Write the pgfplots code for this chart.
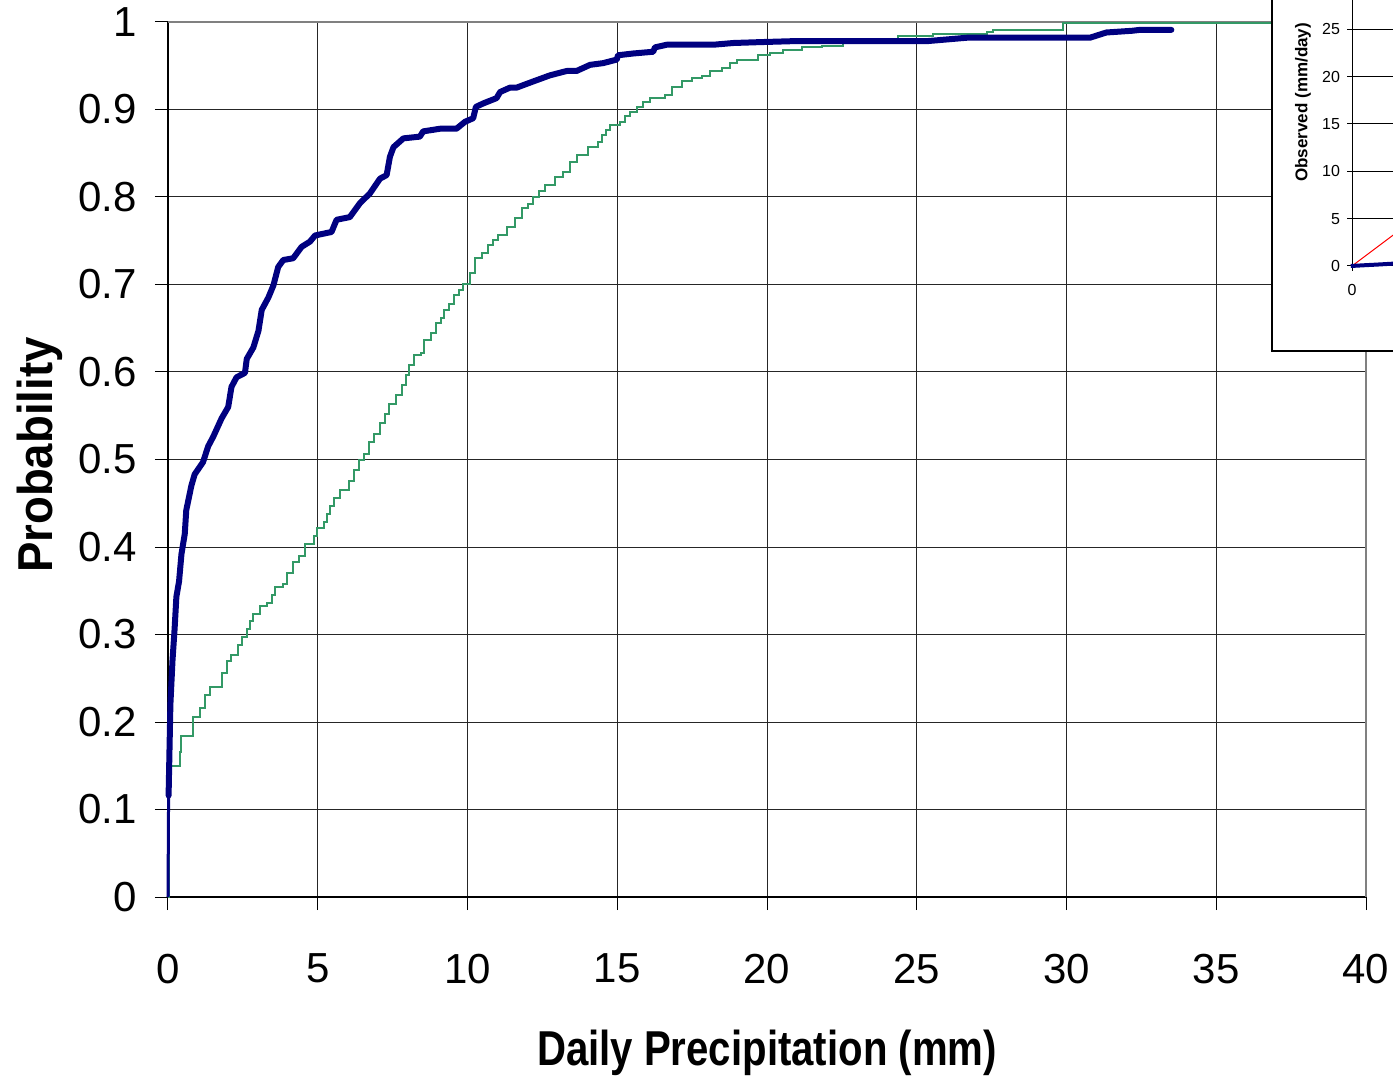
\documentclass[border=0pt]{standalone}
\usepackage{fontspec}
\setmainfont{Liberation Sans}
\usepackage{graphicx}
\usepackage{pgfplots}
\pgfplotsset{compat=1.18}
\definecolor{obsblue}{RGB}{0,0,128}
\definecolor{simgreen}{RGB}{51,153,102}
\begin{document}
\begin{tikzpicture}
\useasboundingbox (-84pt,-90pt) rectangle (612.5pt,448.5pt);
\clip (-84pt,-90pt) rectangle (612.5pt,448.5pt);
\begin{axis}[
  at={(0pt,0pt)}, anchor=south west,
  scale only axis, width=599pt, height=437.5pt,
  xmin=0, xmax=40, ymin=0, ymax=1,
  xtick={0,5,10,15,20,25,30,35,40},
  ytick={0,0.1,0.2,0.3,0.4,0.5,0.6,0.7,0.8,0.9,1},
  yticklabels={0,0.1,0.2,0.3,0.4,0.5,0.6,0.7,0.8,0.9,1},
  xtick pos=left, ytick pos=left,
  tick align=outside, major tick length=6.5pt,
  tick style={black, line width=0.5pt},
  grid=major, major grid style={black!85, line width=0.5pt},
  axis line style={black, line width=0.75pt},
  /pgf/number format/assume math mode=true,
  ticklabel style={font=\fontsize{21}{25}\selectfont},
  xticklabel style={yshift=-18.5pt},
  yticklabel style={xshift=-5.5pt},
  xlabel={\scalebox{0.82}[1]{Daily Precipitation (mm)}},
  ylabel={\scalebox{0.93}[1]{Probability}},
  xlabel style={font=\bfseries\fontsize{24.5}{28}\selectfont, at={(axis description cs:0.5,-0.178)}, anchor=center},
  ylabel style={font=\bfseries\fontsize{24.5}{28}\selectfont, at={(axis description cs:-0.107,0.505)}, anchor=center},
  clip=false,
]
\draw[gray, line width=1pt] (axis cs:0,1) -- (axis cs:40,1) -- (axis cs:40,0);
% simulated (green, stepped)
\addplot[const plot mark left, simgreen, line width=1pt] coordinates {
(0,0) (0.03,0.136) (0.11,0.15) (0.39,0.166) (0.45,0.184) (0.84,0.206) (1.06,0.216)
(1.23,0.231) (1.40,0.240) (1.79,0.256) (1.96,0.27) (2.12,0.277) (2.35,0.288)
(2.46,0.297) (2.63,0.306) (2.74,0.315) (2.85,0.324) (3.07,0.333) (3.30,0.336)
(3.46,0.345) (3.58,0.354) (3.85,0.358) (3.97,0.370) (4.19,0.383) (4.36,0.390)
(4.58,0.404) (4.86,0.413) (4.97,0.422) (5.20,0.429) (5.31,0.438) (5.42,0.447)
(5.53,0.456) (5.75,0.465) (6.03,0.476) (6.20,0.488) (6.37,0.499) (6.54,0.506)
(6.70,0.520) (6.87,0.529) (7.09,0.542) (7.23,0.552) (7.37,0.563) (7.60,0.574)
(7.82,0.585) (7.93,0.597) (8.04,0.608) (8.21,0.619) (8.44,0.622) (8.55,0.637)
(8.77,0.644) (8.94,0.656) (9.11,0.662) (9.22,0.671) (9.39,0.678) (9.55,0.688)
(9.72,0.694) (9.85,0.701) (10.08,0.713) (10.25,0.730) (10.47,0.736) (10.70,0.745)
(10.86,0.751) (11.03,0.757) (11.31,0.766) (11.59,0.776) (11.81,0.787) (12.03,0.792)
(12.20,0.800) (12.40,0.807) (12.59,0.814) (12.92,0.823) (13.20,0.829) (13.42,0.840)
(13.64,0.848) (14.03,0.857) (14.37,0.863) (14.48,0.871) (14.62,0.877) (14.76,0.882)
(15.09,0.886) (15.25,0.892) (15.43,0.897) (15.65,0.903) (15.85,0.908) (16.09,0.913)
(16.59,0.917) (16.82,0.926) (17.15,0.933) (17.48,0.936) (17.82,0.938) (18.10,0.944)
(18.49,0.947) (18.76,0.953) (18.99,0.956) (19.71,0.962) (20.10,0.965) (20.54,0.968)
(21.16,0.971) (21.83,0.973) (22.55,0.976) (23.20,0.980) (24.39,0.984) (25.55,0.986)
(27.33,0.988) (27.55,0.991) (29.89,0.999) (40,0.999)
};
% observed (navy, thick)
\addplot[obsblue, line width=1.5pt] coordinates {(0,0) (0.02,0.116)};
\addplot[obsblue, line width=3pt, line join=round, line cap=round] coordinates {
(0.02,0.116) (0.08,0.22) (0.15,0.27) (0.22,0.306) (0.28,0.343) (0.37,0.361)
(0.45,0.392) (0.56,0.415) (0.61,0.442) (0.78,0.47) (0.89,0.483) (1.17,0.497)
(1.34,0.515) (1.51,0.526) (1.79,0.547) (2.01,0.560) (2.12,0.583) (2.29,0.594)
(2.57,0.599) (2.63,0.615) (2.85,0.628) (3.02,0.647) (3.13,0.671) (3.35,0.685)
(3.52,0.699) (3.68,0.720) (3.85,0.728) (4.18,0.730) (4.46,0.743) (4.74,0.749)
(4.91,0.756) (5.18,0.758) (5.46,0.760) (5.63,0.774) (6.07,0.777) (6.41,0.793)
(6.74,0.804) (7.08,0.821) (7.30,0.825) (7.41,0.846) (7.53,0.857) (7.86,0.867)
(8.41,0.869) (8.52,0.875) (9.08,0.878) (9.63,0.878) (9.92,0.886) (10.19,0.890)
(10.28,0.903) (10.53,0.907) (10.97,0.913) (11.09,0.920) (11.42,0.925) (11.64,0.925)
(12.19,0.932) (12.75,0.939) (13.31,0.944) (13.64,0.944) (14.09,0.951) (14.53,0.953)
(14.98,0.957) (15.03,0.962) (15.53,0.964) (16.20,0.966) (16.26,0.971) (16.65,0.974)
(18.20,0.974) (18.88,0.976) (19.77,0.977) (20.77,0.978) (25.30,0.978) (26.67,0.982)
(30.78,0.982) (31.33,0.988) (32.20,0.990) (32.45,0.991) (33.50,0.991)
};
\end{axis}
% inset frame
\draw[black, line width=0.75pt, fill=white] (552pt,273pt) rectangle (720pt,620pt);
\begin{axis}[
  at={(592pt,315.5pt)}, anchor=south west,
  scale only axis, width=63pt, height=142.05pt,
  xmin=0, xmax=10, ymin=0, ymax=30,
  axis lines=left, axis line style={black, line width=0.5pt},
  xtick={0,5,10}, ytick={0,5,10,15,20,25,30},
  tick align=outside, major tick length=2.5pt,
  tick style={black, line width=0.5pt},
  ymajorgrids, major grid style={black, line width=0.5pt},
  /pgf/number format/assume math mode=true,
  ticklabel style={font=\fontsize{8}{9.5}\selectfont},
  xticklabel style={yshift=-3pt},
  ylabel={Observed (mm/day)},
  ylabel style={font=\bfseries\fontsize{8.5}{10}\selectfont, at={(axis description cs:-0.389,0.576)}, anchor=center},
  clip=false,
]
\addplot[red, line width=0.5pt] coordinates {(0,0) (30,30)};
\addplot[obsblue, line width=2pt] coordinates {(-0.1,0) (1,0.08) (2,0.15) (3.3,0.25) (5,0.4)};
\end{axis}
\end{tikzpicture}
\end{document}
